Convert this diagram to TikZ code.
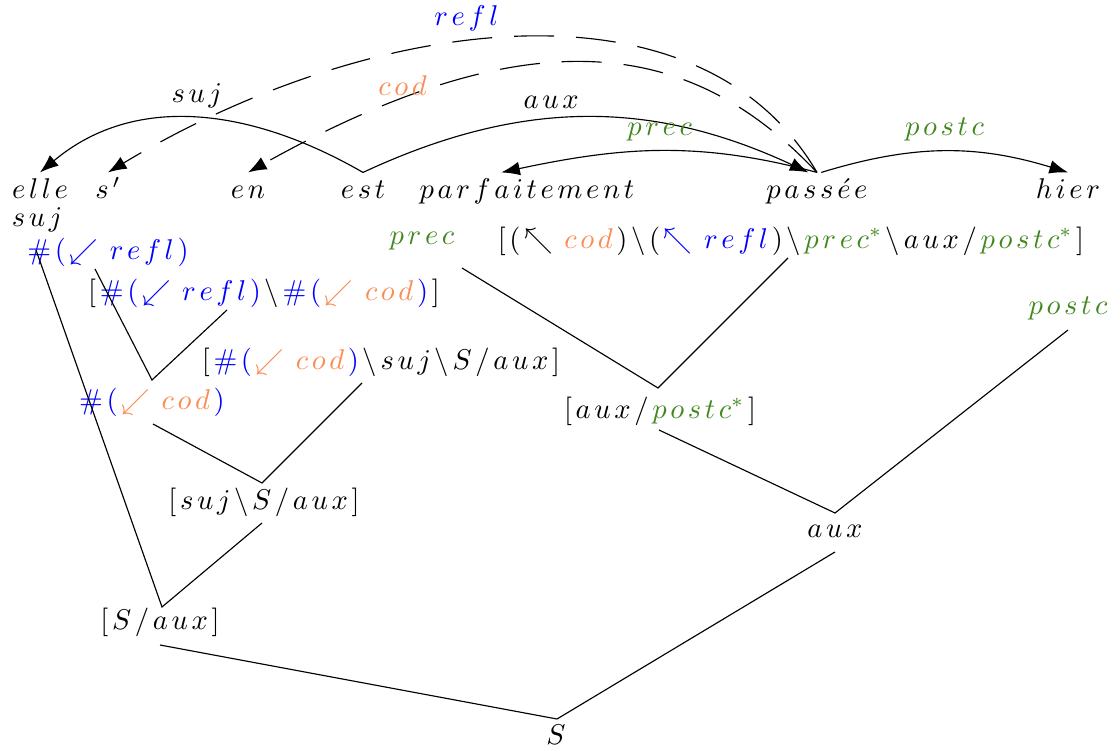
\documentclass[tikz,border=0pt]{standalone}
\usetikzlibrary{arrows.meta,calc}

\definecolor{reflblue}{RGB}{0,0,255}
\definecolor{codorange}{RGB}{250,140,85}
\definecolor{precgreen}{RGB}{65,135,30}

% letter spaced math words
\newcommand{\lsk}{\mkern2.3mu}
\makeatletter
\def\ls#1{\ls@a#1\@nil}
\def\ls@a#1{#1\ls@b}
\def\ls@b#1{\ifx#1\@nil\else\lsk#1\expandafter\ls@b\fi}
\makeatother

% coloured pieces of the categories
\newcommand{\hashrefl}{\textcolor{reflblue}{\ls{\#(\swarrow refl)}}}
\newcommand{\hashcod}{\textcolor{reflblue}{\#\lsk(}\lsk
  \textcolor{codorange}{\ls{\swarrow cod}}\lsk\textcolor{reflblue}{)}}

\begin{document}
\begin{tikzpicture}[x=0.35pt,y=0.35pt,
    word/.style={inner xsep=1pt,inner ysep=2.4pt,text height=6.5pt,text depth=2pt},
    dep/.style={-{Latex[length=6.5pt,width=4.8pt]}},
    antecedent/.style={dep,dash pattern=on 14pt off 7.7pt}]
  \useasboundingbox (0,0) rectangle (1114,-751);

  % the sentence
  \node [word] (elle) at (40,-192) {$\ls{elle}$};
  \node [word] (s) at (108,-192) {$s\lsk'$};
  \node [word] (en) at (248,-192) {$\ls{en}$};
  \node [word] (est) at (363,-192) {$\ls{est}$};
  \node [word] (parf) at (527,-192) {$\ls{parfaitement}$};
  \node [word] (passee) at (817,-192) {$\ls{pass}\lsk\acute{e}\lsk e$};
  \node [word] (hier) at (1068,-192) {$\ls{hier}$};

  % dependencies
  \draw [dep] (est.north) to[out=150,in=40]
    node [above] {$\ls{suj}$} (elle.north);
  \draw [dep] (est.north) to[out=25,in=155]
    node [above,pos=0.42] {$\ls{aux}$} ([xshift=-3pt]passee.north);
  \draw [dep] (passee.north) to[out=165,in=12]
    node [above,precgreen] {$\ls{prec}$} ([xshift=-9pt]parf.north);
  \draw [dep] ([xshift=1.5pt]passee.north) to[out=17,in=163]
    node [above,precgreen] {$\ls{postc}$} (hier.north);

  % antecedents of the clitics
  \draw [antecedent] (passee.north) .. controls +(-120,205) and +(257,155) .. (s.north)
    node [above,pos=0.56,reflblue] {$\ls{refl}$};
  \draw [antecedent] (passee.north) .. controls +(-118,125) and +(297,166) .. (en.north)
    node [above,pos=0.81,codorange,inner sep=1pt] {$\ls{cod}$};

  % categories
  \node (sujc) at (37,-220) {$\ls{suj}$};
  \node (reflc) at (108,-252) {$\hashrefl$};
  \node (enc) at (264,-293) {$[\lsk\hashrefl\lsk\backslash\lsk\hashcod\lsk]$};
  \node (estc) at (381,-362)
    {$[\lsk\hashcod\lsk\backslash\lsk\ls{suj}\lsk\backslash\lsk S\lsk/\lsk\ls{aux}\lsk]$};
  \node (precc) at (422,-241) {$\textcolor{precgreen}{\ls{prec}}$};
  \node (passc) at (791,-241)
    {$[\lsk(\lsk\nwarrow\lsk\textcolor{codorange}{\ls{cod}}\lsk)\lsk\backslash\lsk
      (\lsk\textcolor{reflblue}{\ls{\nwarrow refl}}\lsk)\lsk\backslash\lsk
      \textcolor{precgreen}{\ls{prec}^*}\lsk\backslash\lsk\ls{aux}\lsk/\lsk
      \textcolor{precgreen}{\ls{postc}^*}\lsk]$};
  \node (postcc) at (1068,-308) {$\textcolor{precgreen}{\ls{postc}}$};

  % derivation
  \node (codc) at (152,-402) {$\hashcod$};
  \node (auxpc) at (660,-411)
    {$[\lsk\ls{aux}\lsk/\lsk\textcolor{precgreen}{\ls{postc}^*}\lsk]$};
  \node (sujS) at (264,-502)
    {$[\lsk\ls{suj}\lsk\backslash\lsk S\lsk/\lsk\ls{aux}\lsk]$};
  \node (auxc) at (835,-531) {$\ls{aux}$};
  \node (Saux) at (160,-622) {$[\lsk S\lsk/\lsk\ls{aux}\lsk]$};
  \node (S) at (556,-735) {$S$};

  \draw ($(reflc)+(-13,-17)$) -- ($(codc)+(0,22)$) -- ($(enc)+(-37,-17)$);
  \draw ($(codc)+(1,-22)$) -- ($(sujS)+(-2,19)$) -- ($(estc)+(-19,-21)$);
  \draw ($(sujc)+(-1,-30)$) -- ($(Saux)+(2,15)$) -- ($(sujS)+(-2,-21)$);
  \draw ($(Saux)+(0,-23)$) -- ($(S)+(1,16)$) -- ($(auxc)+(0,-21)$);
  \draw ($(precc)+(40,-27)$) -- ($(auxpc)+(-2,23)$) -- ($(passc)+(-3,-17)$);
  \draw ($(auxpc)+(-1,-19)$) -- ($(auxc)+(0,18)$) -- ($(postcc)+(0,-22)$);
\end{tikzpicture}
\end{document}
